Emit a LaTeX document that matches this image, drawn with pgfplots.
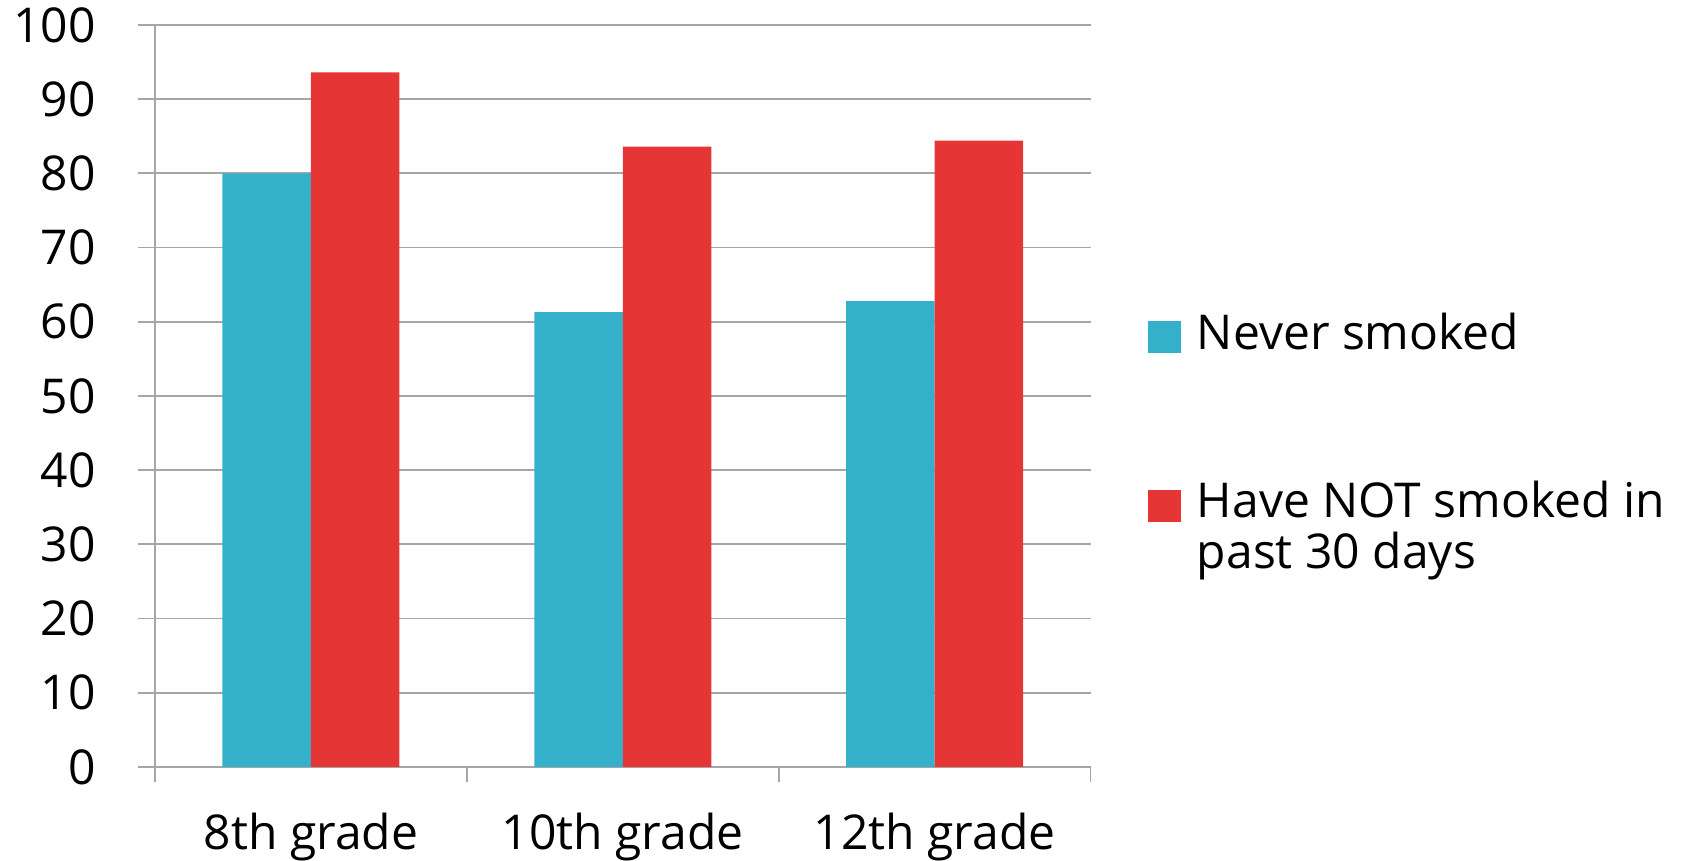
\documentclass[border=0pt]{standalone}
\usepackage{fontspec}
\setmainfont{Open Sans}
\usepackage{pgfplots}
\pgfplotsset{compat=1.18}
\definecolor{neverblue}{HTML}{35B0CB}
\definecolor{notred}{HTML}{E53535}
\definecolor{gridgray}{HTML}{A6A6A6}
% legend square for a two-line entry: sits on the first line
\pgfplotsset{
  square first line/.style={
    legend image code/.code={\fill[##1] (0pt,23.3pt) rectangle (16.25pt,39.5pt);}},
}
\begin{document}
\begin{tikzpicture}
\useasboundingbox (0,0) rectangle (849pt,430.5pt);
\begin{axis}[
  at={(77.5pt,47pt)}, anchor=south west,
  scale only axis, width=467.75pt, height=371pt,
  font=\fontsize{24}{25.5}\selectfont,
  /pgf/number format/assume math mode=true,
  ybar=0pt, bar width=44.25pt,
  xmin=0.5, xmax=3.5, ymin=0, ymax=100,
  xtick={1,2,3}, xticklabels={8th grade,10th grade,12th grade},
  minor xtick={0.5,1.5,2.5,3.5},
  ytick={0,10,...,100},
  axis lines=left, axis line style={-, draw=gridgray, line width=0.9pt},
  ymajorgrids, grid style={gridgray, line width=0.9pt},
  tick style={gridgray, line width=0.9pt},
  major x tick style={draw=none},
  tick align=outside,
  major tick length=8.5pt, minor tick length=7.5pt,
  yticklabel style={inner sep=0pt, xshift=-21pt},
  xticklabel style={anchor=base, inner sep=0pt, yshift=-32.8pt},
  legend style={at={(1.0615,0.613)}, anchor=north west, draw=none, fill=none,
    inner sep=0pt, row sep=64pt, column sep=8pt,
    cells={align=left}, nodes={inner sep=0pt, anchor=base west}},
  legend cell align=left,
  legend image code/.code={\fill[#1] (0pt,-2.2pt) rectangle (16.25pt,14pt);},
]
\addplot[fill=neverblue, draw=none] coordinates {(1,80.0) (2,61.3) (3,62.8)};
\addplot[fill=notred, draw=none, square first line]
  coordinates {(1,93.6) (2,83.6) (3,84.4)};
\legend{Never smoked, Have NOT smoked in\\past 30 days}
\end{axis}
\end{tikzpicture}
\end{document}
